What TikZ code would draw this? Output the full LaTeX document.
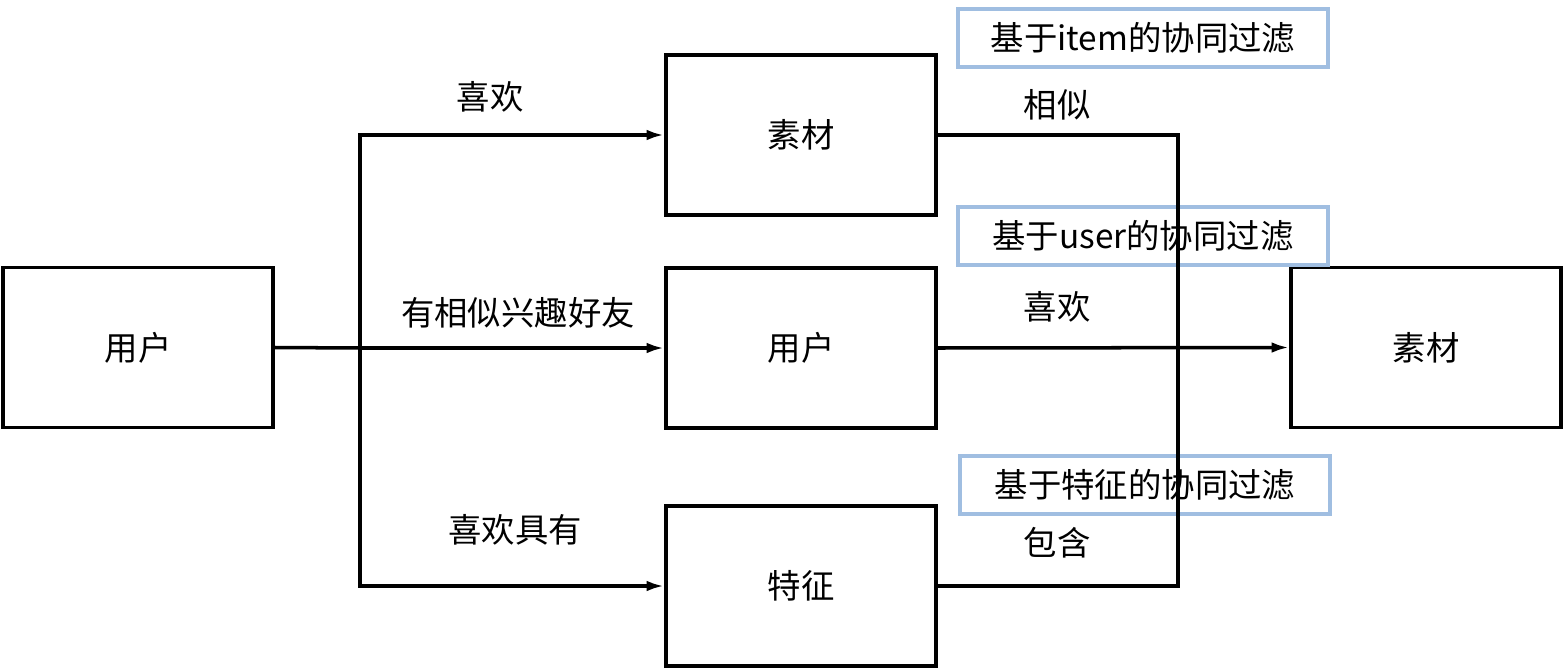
\documentclass[tikz,border=0pt]{standalone}
\usepackage{fontspec}
\setmainfont{Noto Sans CJK SC}
\usetikzlibrary{positioning, arrows.meta}
\definecolor{tagblue}{RGB}{160,190,225}
\begin{document}
\begin{tikzpicture}[
    x=0.02cm, y=-0.02cm,
    box/.style={rectangle, draw, line width=2pt, minimum width=5.4cm, minimum height=3.2cm, inner sep=0pt, font=\fontsize{19}{21}\selectfont},
    tag/.style={rectangle, draw=tagblue, line width=2pt, minimum width=7.4cm, minimum height=1.16cm, inner sep=0pt, font=\fontsize{19}{21}\selectfont},
    label/.style={font=\fontsize{19}{21}\selectfont},
    arrow/.style={-{Latex[length=10pt,width=6pt]}, line width=2pt},
    line/.style={line width=2pt}
]
\useasboundingbox (0,0) rectangle (1564,669);

% boxes
\node[box] (user) at (138,347.5) {用户};
\node[box] (item) at (801,135) {素材};
\node[box] (friend) at (801,348) {用户};
\node[box] (feature) at (801,586) {特征};
\node[box] (target) at (1426,347.5) {素材};

% tags
\node[tag] (tagitem) at (1143,38) {基于item的协同过滤};
\node[tag] (taguser) at (1143,236) {基于user的协同过滤};
\node[tag] (tagfeat) at (1145,485) {基于特征的协同过滤};

% left branching
\coordinate (split) at (360,348);
\draw[line] (user.east) -- (split);
\draw[arrow] (split) |- (item.west);
\draw[arrow] (split) -- (friend.west);
\draw[arrow] (split) |- (feature.west);
\node[label] at (490,97) {喜欢};
\node[label] at (518,313) {有相似兴趣好友};
\node[label] at (515,530) {喜欢具有};

% right merging
\coordinate (merge) at (1178,348);
\draw[line] (item.east) -| (merge) |- (feature.east);
\draw[arrow] (friend.east) -- (target.west);
\node[label] at (1057,105) {相似};
\node[label] at (1057,307) {喜欢};
\node[label] at (1057,543) {包含};
\end{tikzpicture}
\end{document}
